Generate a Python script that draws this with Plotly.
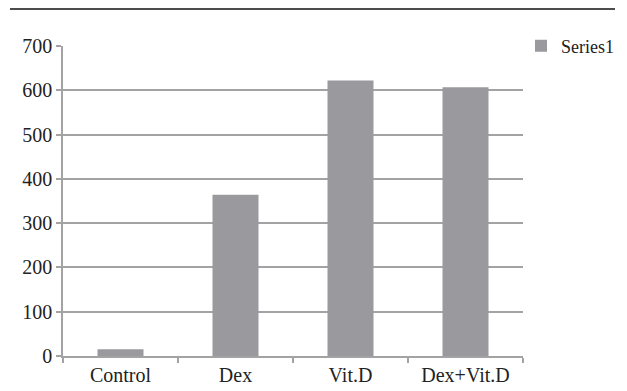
import plotly.graph_objects as go

# Group labels and measured values
categories = ["Control", "Dex", "Vit.D", "Dex+Vit.D"]
values = [15, 364, 622, 607]
series_name = "Series1"
y_ticks = [0, 100, 200, 300, 400, 500, 600, 700]

W, H = 627, 391
L, R, T, B = 63, 104, 46, 35
FONT = "Liberation Serif"
GRID = "#a3a3a3"
BAR = "#9a9a9e"
TEXT = "#222222"

fig = go.Figure(
    go.Bar(
        x=categories,
        y=values,
        name=series_name,
        marker=dict(color=BAR, line=dict(width=0)),
        showlegend=True,
    )
)

plot_w = W - L - R
plot_h = H - T - B

fig.update_layout(
    width=W,
    height=H,
    margin=dict(l=L, r=R, t=T, b=B, pad=0, autoexpand=False),
    paper_bgcolor="white",
    plot_bgcolor="white",
    bargap=0.6,
    font=dict(family=FONT, size=20, color=TEXT),
    showlegend=True,
    legend=dict(
        xref="container", yref="container",
        x=521 / W, y=1 - 46 / H, xanchor="left", yanchor="middle",
        bgcolor="rgba(0,0,0,0)", borderwidth=0,
        font=dict(family=FONT, size=18, color=TEXT),
        itemwidth=30,
    ),
    xaxis=dict(
        type="category",
        automargin=False,
        showgrid=False,
        showline=True, linecolor=GRID, linewidth=1.5,
        ticks="outside", ticklen=5, tickcolor=GRID, tickwidth=1.5,
        tickson="boundaries",
        tickfont=dict(family=FONT, size=20, color=TEXT),
    ),
    yaxis=dict(
        range=[0, 700],
        automargin=False,
        tickvals=y_ticks,
        showgrid=True, gridcolor=GRID, gridwidth=1.5,
        zeroline=False,
        showline=True, linecolor=GRID, linewidth=1.5,
        ticks="outside", ticklen=5, tickcolor=GRID, tickwidth=1.5,
        tickfont=dict(family=FONT, size=20, color=TEXT),
    ),
    shapes=[
        # rule across the top of the figure
        dict(
            type="line", xref="paper", yref="paper",
            x0=(10 - L) / plot_w, x1=(615 - L) / plot_w,
            y0=1 + (T - 9) / plot_h, y1=1 + (T - 9) / plot_h,
            line=dict(color="#111111", width=1.5),
        )
    ],
)

fig.write_html("out.html")
